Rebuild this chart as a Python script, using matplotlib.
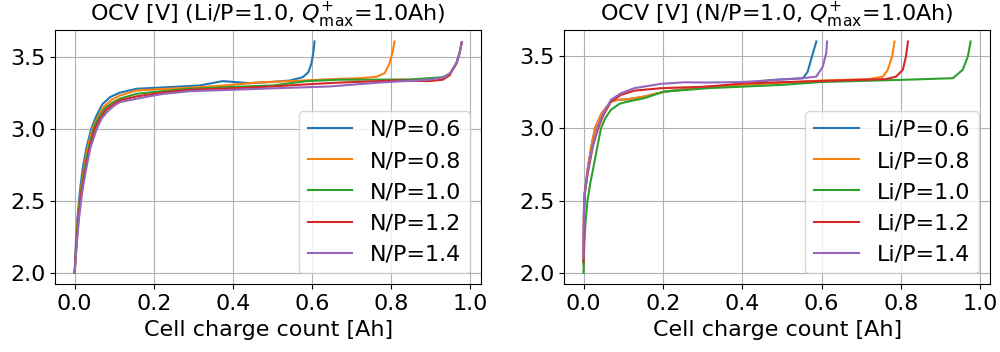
import matplotlib
matplotlib.use("Agg")
import matplotlib.pyplot as plt

plt.rcParams["font.size"] = 16

# Left panel: Li/P = 1.0, sweep over N/P
np_labels = ["N/P=0.6", "N/P=0.8", "N/P=1.0", "N/P=1.2", "N/P=1.4"]

q_np06 = [0.0, 0.003, 0.007, 0.013, 0.020, 0.030, 0.042, 0.055, 0.070, 0.090, 0.114, 0.156, 0.25, 0.316,
          0.374, 0.442, 0.50, 0.543, 0.576, 0.590, 0.598, 0.603, 0.606]
v_np06 = [2.0, 2.20, 2.38, 2.56, 2.72, 2.87, 3.00, 3.09, 3.17, 3.22, 3.25, 3.277, 3.29, 3.30,
          3.33, 3.316, 3.325, 3.334, 3.357, 3.39, 3.45, 3.53, 3.605]

q_np08 = [0.0, 0.004, 0.008, 0.015, 0.023, 0.033, 0.045, 0.058, 0.073, 0.093, 0.114, 0.156, 0.22, 0.29,
          0.38, 0.459, 0.543, 0.644, 0.72, 0.762, 0.783, 0.795, 0.804, 0.808]
v_np08 = [2.0, 2.20, 2.38, 2.56, 2.72, 2.87, 3.00, 3.08, 3.15, 3.20, 3.23, 3.265, 3.275, 3.284,
          3.30, 3.32, 3.33, 3.343, 3.35, 3.36, 3.385, 3.45, 3.54, 3.605]

q_np10 = [0.0, 0.004, 0.009, 0.016, 0.025, 0.036, 0.048, 0.061, 0.076, 0.095, 0.114, 0.156, 0.22, 0.29,
          0.40, 0.501, 0.585, 0.669, 0.75, 0.85, 0.93, 0.947, 0.964, 0.972, 0.978]
v_np10 = [2.0, 2.20, 2.38, 2.56, 2.72, 2.87, 3.00, 3.08, 3.14, 3.18, 3.208, 3.242, 3.26, 3.277,
          3.29, 3.30, 3.33, 3.34, 3.34, 3.342, 3.357, 3.38, 3.45, 3.52, 3.60]

q_np12 = [0.0, 0.005, 0.010, 0.017, 0.027, 0.038, 0.051, 0.064, 0.079, 0.098, 0.114, 0.156, 0.22, 0.29,
          0.40, 0.50, 0.60, 0.669, 0.75, 0.812, 0.896, 0.93, 0.947, 0.964, 0.972, 0.978]
v_np12 = [2.0, 2.20, 2.38, 2.56, 2.72, 2.87, 3.00, 3.07, 3.13, 3.17, 3.196, 3.224, 3.25, 3.27,
          3.28, 3.293, 3.31, 3.32, 3.328, 3.335, 3.33, 3.34, 3.37, 3.45, 3.52, 3.60]

q_np14 = [0.0, 0.005, 0.011, 0.019, 0.029, 0.040, 0.056, 0.068, 0.083, 0.100, 0.114, 0.156, 0.22, 0.29,
          0.40, 0.50, 0.644, 0.77, 0.896, 0.934, 0.950, 0.965, 0.973, 0.978]
v_np14 = [2.0, 2.20, 2.38, 2.56, 2.72, 2.87, 3.00, 3.07, 3.12, 3.16, 3.184, 3.208, 3.24, 3.26,
          3.27, 3.28, 3.293, 3.32, 3.34, 3.357, 3.39, 3.46, 3.53, 3.60]

# Right panel: N/P = 1.0, sweep over Li/P
li_labels = ["Li/P=0.6", "Li/P=0.8", "Li/P=1.0", "Li/P=1.2", "Li/P=1.4"]

q_li06 = [0.0, 0.001, 0.003, 0.010, 0.020, 0.029, 0.045, 0.069, 0.086, 0.110, 0.153, 0.203, 0.313,
          0.402, 0.47, 0.553, 0.565, 0.576, 0.587]
v_li06 = [2.06, 2.40, 2.55, 2.71, 2.88, 3.00, 3.10, 3.184, 3.196, 3.20, 3.219, 3.253, 3.288,
          3.30, 3.333, 3.346, 3.39, 3.497, 3.60]

q_li08 = [0.0, 0.001, 0.003, 0.010, 0.020, 0.029, 0.045, 0.069, 0.086, 0.110, 0.153, 0.203, 0.313,
          0.402, 0.50, 0.60, 0.721, 0.755, 0.767, 0.778, 0.784]
v_li08 = [2.06, 2.40, 2.55, 2.71, 2.88, 3.00, 3.10, 3.184, 3.196, 3.20, 3.219, 3.253, 3.288,
          3.30, 3.315, 3.33, 3.34, 3.357, 3.404, 3.497, 3.60]

q_li10 = [0.0, 0.002, 0.005, 0.010, 0.017, 0.025, 0.034, 0.044, 0.055, 0.069, 0.091, 0.111, 0.153, 0.203, 0.313,
          0.402, 0.50, 0.60, 0.805, 0.931, 0.956, 0.969, 0.976]
v_li10 = [2.0, 2.20, 2.35, 2.50, 2.62, 2.73, 2.86, 3.00, 3.07, 3.127, 3.17, 3.184, 3.208, 3.253, 3.277,
          3.288, 3.30, 3.32, 3.335, 3.346, 3.404, 3.497, 3.60]

q_li12 = [0.0, 0.001, 0.003, 0.012, 0.024, 0.037, 0.050, 0.069, 0.094, 0.128, 0.195, 0.313,
          0.402, 0.60, 0.763, 0.788, 0.805, 0.813, 0.818]
v_li12 = [2.08, 2.40, 2.55, 2.71, 2.88, 3.00, 3.09, 3.184, 3.23, 3.26, 3.277, 3.288,
          3.31, 3.327, 3.34, 3.357, 3.404, 3.497, 3.60]

q_li14 = [0.0, 0.001, 0.003, 0.011, 0.023, 0.035, 0.048, 0.069, 0.094, 0.128, 0.195, 0.254, 0.313,
          0.402, 0.553, 0.587, 0.603, 0.612, 0.614]
v_li14 = [2.10, 2.45, 2.55, 2.71, 2.88, 3.00, 3.09, 3.196, 3.242, 3.277, 3.307, 3.318, 3.316,
          3.32, 3.346, 3.357, 3.425, 3.52, 3.60]

left_series = [(q_np06, v_np06), (q_np08, v_np08), (q_np10, v_np10), (q_np12, v_np12), (q_np14, v_np14)]
right_series = [(q_li06, v_li06), (q_li08, v_li08), (q_li10, v_li10), (q_li12, v_li12), (q_li14, v_li14)]

fig, axes = plt.subplots(1, 2, figsize=(10, 3.52), dpi=100)
fig.subplots_adjust(left=0.0553, right=0.99, bottom=0.192, top=0.915, wspace=0.195)

panels = [
    (axes[0], left_series, np_labels, r"OCV [V] (Li/P=1.0, $Q_{\max}^{+}$=1.0Ah)"),
    (axes[1], right_series, li_labels, r"OCV [V] (N/P=1.0, $Q_{\max}^{+}$=1.0Ah)"),
]
for ax, series, labels, title in panels:
    for (q, v), lab in zip(series, labels):
        ax.plot(q, v, label=lab)
    ax.set_title(title, fontsize=16)
    ax.set_xlabel("Cell charge count [Ah]")
    ax.set_xticks([0.0, 0.2, 0.4, 0.6, 0.8, 1.0])
    ax.set_yticks([2.0, 2.5, 3.0, 3.5])
    ax.grid(True)
    ax.legend(loc="lower right")

fig.savefig("out.png")
